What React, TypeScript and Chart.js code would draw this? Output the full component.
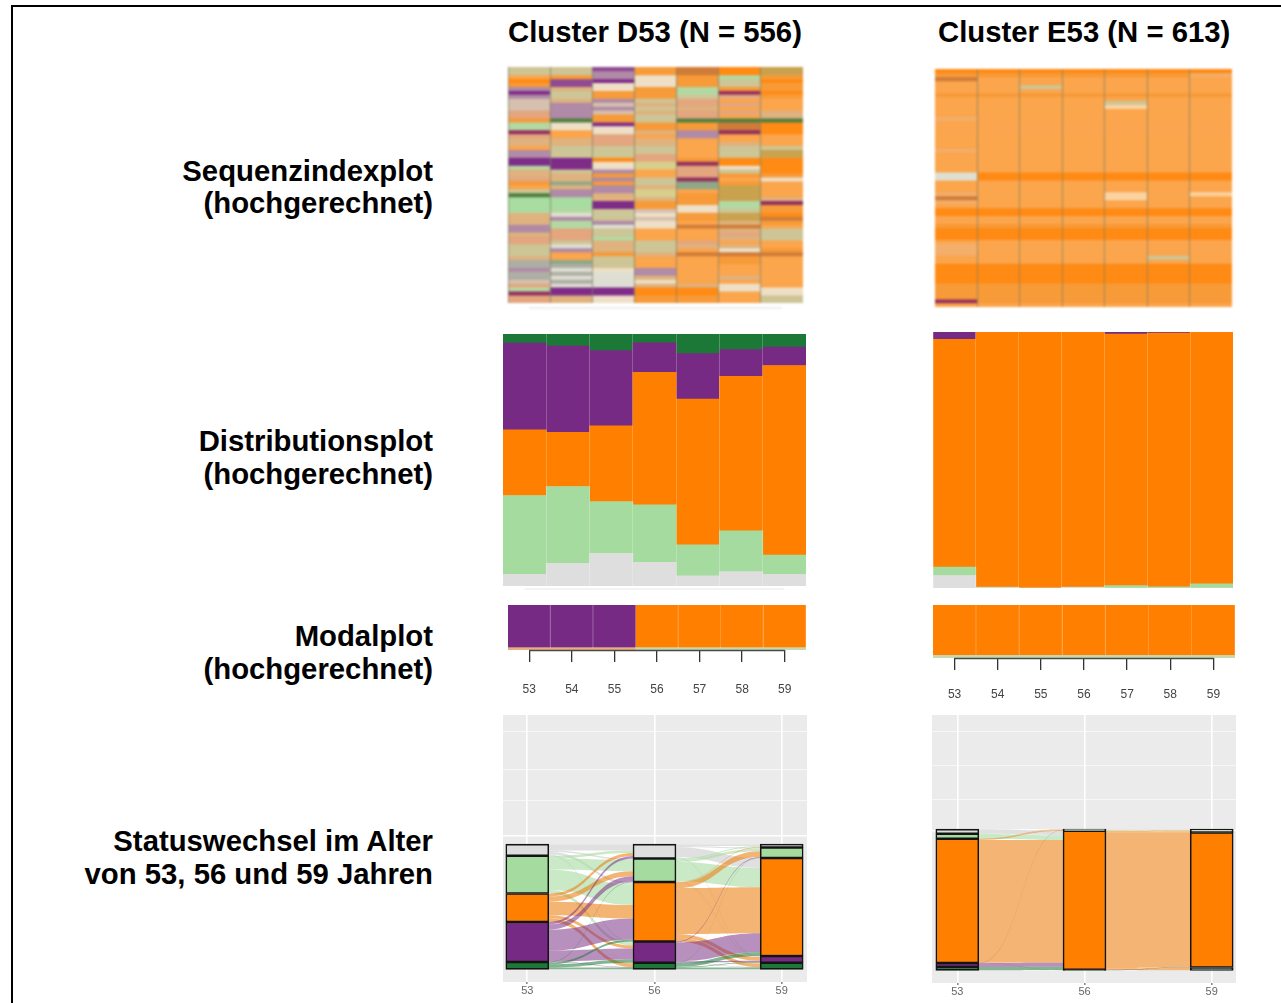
import React, { useEffect, useRef } from "react";
import { Chart, registerables } from "chart.js";

Chart.register(...registerables);

// ---------- data ----------
const ages = ["53", "54", "55", "56", "57", "58", "59"];
const stateNames = ["Sonstiges", "Teilzeit", "Vollzeit", "Nichterwerb", "Arbeitslos"];

// Sequence index plots: one string per age, one letter per sequence row (top to bottom)
const seqD53 = "kkoOnmPmhh hccnggdctt ommPPgttcn okGllllttt mmtcckkkts smsshcgdcc";
const seqD54 = "kknpptkktm mmmGwwoott kkkPPPkttv tmmlllgemg gccckemoov sesesePPtt";
const seqD55 = "pmmPwwnnmh mhnnPwwccc kkkOwwmnmn mmttPPkkkm ekkgtttnkk kweeeePPww";
const seqD56 = "nnwwwnnnkt ktkknntott kkccyyookk tyytnnhwhw woookkktoo ommtwtOOnn";
const seqD57 = "rrnnnggkcc tccGnnmmoo ooondcccdv vonnnwwnno roooctoroo oooootOOnn";
const seqD58 = "OOgkkndcoc ocoGrrdoot kkkOOwknon aaaaggkaat rtctotwrnn oootowwooo";
const seqD59 = "aanOnnOnoo ottGOOOooo kaaOOOOnwo oootdnnOrn okkkoonroo oooooowwkk";
const seqE53 = "Onrooonooo ooxooooooo xoooooeeoo oxrxoOOoon OOOoxxxooO OOOOnnnndo";
const seqE54 = "Onoooonooo oooooooooo ooooooOOoo oooooOOoon OOOooooooO OOOOnnnnno";
const seqE55 = "Onookonooo oooooooooo ooooooOOoo oooooOOoon OOOooooooO OOOOnnnnno";
const seqE56 = "Onoooonooo oooooooooo ooooooOOoo oooooOOoon OOOooooooO OOOOnnnnno";
const seqE57 = "Onoooonokb oooooooooo ooooooOOoo obbooOOoon OOOooooooO OOOOnnnnno";
const seqE58 = "Onoooonooo oooooooooo ooooooOOoo oooooOOoon OOOooookoO OOOOnnnnno";
const seqE59 = "Oxoooonooo oooooooooo ooooooOOoo oboooOOoon OOOooooooO OOOOnnnnno";

// Distribution plots: percent per age, bottom to top
const distDGrey = [4.6, 9.0, 13.0, 9.4, 4.0, 5.7, 4.6];
const distDLight = [31.3, 30.5, 20.5, 22.8, 12.3, 16.2, 7.7];
const distDOrange = [26.1, 21.5, 30.1, 52.6, 57.9, 61.3, 75.2];
const distDPurple = [34.4, 34.2, 29.8, 11.7, 18.0, 10.6, 7.3];
const distDGreen = [3.6, 4.8, 6.6, 3.5, 7.8, 6.2, 5.2];
const distEGrey = [4.9, 0.2, 0, 0.3, 0, 0, 0];
const distELight = [3.3, 0.2, 0, 0.1, 0.9, 0.5, 1.6];
const distEOrange = [88.9, 99.6, 100, 99.6, 98.3, 99.1, 98.4];
const distEPurple = [2.9, 0, 0, 0, 0.8, 0.4, 0];

// Modal plots
const modalDStates = ["P", "P", "P", "O", "O", "O", "O"];
const modalEStates = ["O", "O", "O", "O", "O", "O", "O"];
const modalDEdge = ["T", "T", "T", "U", "U", "U", "U"];
const modalEEdge = ["U", "U", "U", "U", "U", "U", "U"];

// Alluvial plots: stratum heights (top to bottom: grey, light green, orange, purple, dark green)
const alluvialYears = [53, 56, 59];
const strataD = [
  [9.3, 30.1, 22.7, 32.0, 5.9],
  [11.5, 18.7, 47.5, 17.0, 5.3],
  [2.7, 8.3, 78.4, 5.3, 5.3],
];
const strataE = [
  [3.3, 3.5, 88.0, 2.8, 2.4],
  [0.5, 0.6, 98.6, 0.1, 0.2],
  [1.6, 0.8, 95.6, 1.0, 1.0],
];
// Transition tables: row = from state, column = to state
const flowsD5356 = [
  [5.0, 1.2, 2.1, 0.7, 0.3],
  [2.0, 9.0, 16.3, 2.6, 0.2],
  [2.5, 4.0, 10.8, 2.4, 3.0],
  [2.0, 4.2, 16.7, 8.8, 0.3],
  [0, 0.3, 1.6, 2.5, 1.5],
];
const flowsD5659 = [
  [1.5, 1.0, 8.0, 0.5, 0.5],
  [0.7, 2.0, 15.5, 0.3, 0.2],
  [0.5, 4.5, 36.6, 3.0, 2.9],
  [0, 0.6, 15.3, 0.9, 0.2],
  [0, 0.2, 3.0, 0.6, 1.5],
];
const flowsE5356 = [
  [0.1, 0, 3.2, 0, 0],
  [0, 0.1, 3.4, 0, 0],
  [0.3, 0.5, 87.0, 0.1, 0.1],
  [0.1, 0, 2.7, 0, 0],
  [0, 0, 2.3, 0, 0.1],
];
const flowsE5659 = [
  [0.5, 0, 0, 0, 0],
  [0.4, 0.2, 0, 0, 0],
  [0.7, 0.6, 95.3, 1.0, 1.0],
  [0, 0, 0.1, 0, 0],
  [0, 0, 0.2, 0, 0],
];
const gridD = [107, 135, 160, 190];
const gridE = [99, 121, 145, 169];

// ---------- styles ----------
const SEQ_COLORS: Record<string, string> = {
  O: "#ff8a14", o: "#fba54c", n: "#f79a38", t: "#dfb27e", c: "#e3a67e", k: "#cdc596",
  y: "#d8cf8c", g: "#b4d8a2", l: "#a8dca0", P: "#7e2c88", p: "#8f4a92", m: "#b08aa6",
  h: "#d6c0ae", w: "#eedfc6", e: "#dedfd2", s: "#aeaea4", v: "#8fa888", G: "#4f7e3f",
  r: "#cf7c38", d: "#93305f", a: "#c9a24e", b: "#fbd3a0", x: "#f3ae6a",
};
const STATE_COLORS = ["#dedede", "#a6dba0", "#ff7f00", "#762a83", "#1b7837"];
const FLOW_COLORS = [
  "rgba(214,214,214,0.75)",
  "rgba(166,219,160,0.6)",
  "rgba(236,125,15,0.58)",
  "rgba(118,42,131,0.52)",
  "rgba(27,120,55,0.55)",
];
const MODAL_COLORS: Record<string, string> = { P: "#762a83", O: "#ff7f00", T: "#e8ae7c", U: "#c6d8ae" };
const SEP = "rgba(255,255,255,0.22)";

const panelPlugin = {
  id: "panel",
  beforeDraw(chart: any, _a: any, opts: any) {
    if (!opts.color) return;
    const { ctx, chartArea: c } = chart;
    ctx.save();
    ctx.fillStyle = opts.color;
    ctx.fillRect(c.left, c.top, c.right - c.left, c.bottom - c.top);
    ctx.restore();
  },
};

const spanPlugin = {
  id: "span",
  afterDatasetsDraw(chart: any, _a: any, opts: any) {
    if (!opts.color) return;
    const x = chart.scales.x;
    const n = x.ticks.length - 1;
    const y = x.top + opts.offset;
    const { ctx } = chart;
    ctx.save();
    ctx.strokeStyle = opts.color;
    ctx.lineWidth = opts.width;
    ctx.beginPath();
    ctx.moveTo(x.getPixelForTick(0), y);
    ctx.lineTo(x.getPixelForTick(n), y);
    ctx.stroke();
    ctx.restore();
  },
};

const sum = (a: number[]) => a.reduce((s, v) => s + v, 0);

const flowPlugin = {
  id: "flows",
  beforeDatasetsDraw(chart: any, _a: any, opts: any) {
    if (!opts.tables) return;
    const { ctx, scales } = chart;
    const { x, y } = scales;
    const half = opts.half;
    ctx.save();
    opts.tables.forEach((table: number[][], step: number) => {
      const x1 = x.getPixelForValue(opts.years[step] + half);
      const x2 = x.getPixelForValue(opts.years[step + 1] - half);
      const mid = (x1 + x2) / 2;
      ctx.fillStyle = "#ffffff";
      ctx.fillRect(x1, y.getPixelForValue(100), x2 - x1, y.getPixelForValue(0) - y.getPixelForValue(100));
      const fromStrata = opts.strata[step];
      const toStrata = opts.strata[step + 1];
      table.forEach((row, from) => {
        row.forEach((amount, to) => {
          if (!amount) return;
          const a1 = 100 - sum(fromStrata.slice(0, from)) - sum(row.slice(0, to));
          const colBefore = table.slice(0, from).reduce((s, r) => s + r[to], 0);
          const a2 = 100 - sum(toStrata.slice(0, to)) - colBefore;
          const pA1 = y.getPixelForValue(a1);
          const pB1 = y.getPixelForValue(a1 - amount);
          const pA2 = y.getPixelForValue(a2);
          const pB2 = y.getPixelForValue(a2 - amount);
          ctx.fillStyle = FLOW_COLORS[from];
          ctx.beginPath();
          ctx.moveTo(x1, pA1);
          ctx.bezierCurveTo(mid, pA1, mid, pA2, x2, pA2);
          ctx.lineTo(x2, pB2);
          ctx.bezierCurveTo(mid, pB2, mid, pB1, x1, pB1);
          ctx.closePath();
          ctx.fill();
        });
      });
    });
    ctx.restore();
  },
};

const base = {
  responsive: false,
  animation: false,
  events: [] as string[],
  layout: { padding: 0 },
};

function fixedHeight(h: number) {
  return (scale: any) => {
    scale.height = h;
    scale.paddingLeft = 0;
    scale.paddingRight = 0;
  };
}

function seqConfig(columns: string[], extra: number, spanColor?: string) {
  const cols = columns.map((c) => c.replace(/ /g, ""));
  const rows = cols[0].length;
  const datasets = [];
  for (let r = 0; r < rows; r++) {
    datasets.push({
      data: cols.map(() => 1),
      backgroundColor: cols.map((c) => SEQ_COLORS[c[r]]),
      borderWidth: 0,
      barPercentage: 1,
      categoryPercentage: 1,
    });
  }
  return {
    type: "bar",
    data: { labels: ages, datasets },
    plugins: [spanPlugin],
    options: {
      ...base,
      plugins: {
        legend: { display: false },
        tooltip: { enabled: false },
        span: { color: spanColor, offset: extra - 1, width: 1.2 },
      },
      scales: {
        x: {
          stacked: true,
          afterFit: fixedHeight(extra),
          border: { display: false },
          grid: { offset: true, color: "rgba(128,128,100,0.75)", lineWidth: 1, z: 1, drawTicks: false },
          ticks: { display: false },
        },
        y: { stacked: true, display: false, reverse: true, min: 0, max: rows },
      },
    },
  };
}

function distConfig(series: number[][], extra: number, spanColor?: string) {
  return {
    type: "bar",
    data: {
      labels: ages,
      datasets: series.map((data, i) => ({
        label: stateNames[i],
        data,
        backgroundColor: STATE_COLORS[i],
        borderWidth: 0,
        barPercentage: 1,
        categoryPercentage: 1,
      })),
    },
    plugins: [spanPlugin],
    options: {
      ...base,
      plugins: {
        legend: { display: false },
        tooltip: { enabled: false },
        span: { color: spanColor, offset: extra - 1, width: 1.2 },
      },
      scales: {
        x: {
          stacked: true,
          afterFit: fixedHeight(extra),
          border: { display: false },
          grid: { offset: true, color: SEP, lineWidth: 1, z: 1, drawTicks: false },
          ticks: { display: false },
        },
        y: { stacked: true, display: false, min: 0, max: 100 },
      },
    },
  };
}

function modalConfig(states: string[], edge: string[], axisHeight: number, pad: number) {
  const bar = {
    borderWidth: 0,
    barPercentage: 1,
    categoryPercentage: 1,
  };
  return {
    type: "bar",
    data: {
      labels: ages,
      datasets: [
        { ...bar, data: ages.map(() => 5), backgroundColor: edge.map((s) => MODAL_COLORS[s]) },
        {
          ...bar,
          data: ages.map(() => 95),
          backgroundColor: states.map((s) => MODAL_COLORS[s]),
          borderWidth: { right: 1, left: 0, top: 0, bottom: 0 },
          borderColor: states.map((s) => (s === "P" ? "#9a6aa3" : "#ff9f45")),
        },
      ],
    },
    plugins: [spanPlugin],
    options: {
      ...base,
      plugins: {
        legend: { display: false },
        tooltip: { enabled: false },
        span: { color: "#4a4a4a", offset: 0.5, width: 1.6 },
      },
      scales: {
        x: {
          stacked: true,
          afterFit: fixedHeight(axisHeight),
          border: { display: false },
          grid: { offset: false, drawOnChartArea: false, drawTicks: true, tickLength: 12, color: "#333", lineWidth: 1.3 },
          ticks: {
            padding: pad,
            color: "#444",
            autoSkip: false,
            maxRotation: 0,
            font: { family: "'Liberation Sans Narrow', 'Liberation Sans'", size: 12 },
          },
        },
        y: { stacked: true, display: false, min: 0, max: 100 },
      },
    },
  };
}

function alluvialConfig(strata: number[][], tables: number[][][], grid: number[], xMin: number, xMax: number, yMin: number, yMax: number) {
  // bottom-most state is drawn first
  const order = [4, 3, 2, 1, 0];
  return {
    type: "bar",
    data: {
      datasets: order.map((state) => ({
        label: stateNames[state],
        data: alluvialYears.map((year, i) => ({ x: year, y: strata[i][state] })),
        backgroundColor: STATE_COLORS[state],
        borderColor: "#141414",
        borderWidth: 1.6,
        borderSkipped: false,
        barThickness: 43,
      })),
    },
    plugins: [panelPlugin, flowPlugin],
    options: {
      ...base,
      plugins: {
        legend: { display: false },
        tooltip: { enabled: false },
        panel: { color: "#ebebeb" },
        flows: { tables, strata, years: alluvialYears, half: 0.503 },
      },
      scales: {
        x: {
          type: "linear",
          stacked: true,
          offset: false,
          min: xMin,
          max: xMax,
          afterBuildTicks(scale: any) {
            scale.ticks = alluvialYears.map((value) => ({ value }));
          },
          afterFit: fixedHeight(18),
          border: { display: false },
          grid: { offset: false, color: "#ffffff", lineWidth: 1.6, tickColor: "#888", tickLength: 2 },
          ticks: {
            padding: 0,
            color: "#666666",
            maxRotation: 0,
            font: { family: "'Liberation Sans'", size: 11 },
            callback: (v: number) => String(v),
          },
        },
        y: {
          stacked: true,
          min: yMin,
          max: yMax,
          afterBuildTicks(scale: any) {
            scale.ticks = grid.map((value) => ({ value }));
          },
          afterFit(scale: any) {
            scale.width = 0;
          },
          border: { display: false },
          grid: {
            color: (c: any) => (c.index === 0 ? "#ffffff" : "rgba(255,255,255,0.6)"),
            lineWidth: (c: any) => (c.index === 0 ? 1.6 : 1),
            drawTicks: false,
          },
          ticks: { display: false },
        },
      },
    },
  };
}

function Plot({ config, left, top, width, height, blur = 0.7 }: any) {
  const ref = useRef<HTMLCanvasElement>(null);
  useEffect(() => {
    const chart = new Chart(ref.current as any, config());
    return () => chart.destroy();
  }, []);
  return (
    <canvas
      ref={ref}
      width={width}
      height={height}
      style={{ position: "absolute", left, top, width, height, filter: `blur(${blur}px)` }}
    />
  );
}

const FONT: React.CSSProperties = {
  position: "absolute",
  fontFamily: "'Liberation Sans', Arial, sans-serif",
  fontWeight: "bold",
  fontSize: 29.3,
  lineHeight: "34px",
  whiteSpace: "nowrap",
  color: "#000",
};

function Title({ text, left, center }: { text: string; left: number; center: number }) {
  return <div style={{ ...FONT, left, top: center - 17 }}>{text}</div>;
}
function RowLabel({ text, center }: { text: string; center: number }) {
  return <div style={{ ...FONT, right: 1281 - 433, top: center - 17, textAlign: "right" }}>{text}</div>;
}

export default function App() {
  useEffect(() => {
    document.body.style.margin = "0";
  }, []);
  return (
    <div style={{ position: "relative", width: 1281, height: 1003, overflow: "hidden", background: "#fff" }}>
      <div style={{ position: "absolute", left: 11, top: 5, width: 1270, height: 2, background: "#000" }} />
      <div style={{ position: "absolute", left: 11, top: 5, width: 2, height: 998, background: "#000" }} />

      <Title text="Cluster D53 (N = 556)" left={508} center={32} />
      <Title text="Cluster E53 (N = 613)" left={938} center={32} />
      <RowLabel text="Sequenzindexplot" center={171} />
      <RowLabel text="(hochgerechnet)" center={203} />
      <RowLabel text="Distributionsplot" center={441} />
      <RowLabel text="(hochgerechnet)" center={474} />
      <RowLabel text="Modalplot" center={636} />
      <RowLabel text="(hochgerechnet)" center={669} />
      <RowLabel text="Statuswechsel im Alter" center={841} />
      <RowLabel text="von 53, 56 und 59 Jahren" center={874} />

      <Plot
        left={508} top={67} width={295} height={242} blur={1}
        config={() => seqConfig([seqD53, seqD54, seqD55, seqD56, seqD57, seqD58, seqD59], 6, "#dddddd")}
      />
      <Plot
        left={935} top={69} width={297} height={238} blur={1}
        config={() => seqConfig([seqE53, seqE54, seqE55, seqE56, seqE57, seqE58, seqE59], 0)}
      />
      <Plot
        left={503} top={334} width={303} height={256}
        config={() => distConfig([distDGrey, distDLight, distDOrange, distDPurple, distDGreen], 4, "#e8e8e8")}
      />
      <Plot
        left={933} top={332} width={300} height={258}
        config={() => distConfig([distEGrey, distELight, distEOrange, distEPurple], 2)}
      />
      <Plot
        left={508} top={605} width={298} height={100} blur={0.5}
        config={() => modalConfig(modalDStates, modalDEdge, 55, 20)}
      />
      <Plot
        left={933} top={605} width={302} height={100} blur={0.5}
        config={() => modalConfig(modalEStates, modalEEdge, 47, 17)}
      />
      <Plot
        left={503} top={715} width={304} height={285} blur={0.45}
        config={() => alluvialConfig(strataD, [flowsD5356, flowsD5659], gridD, 52.427, 59.597, -10.1, 203.2)}
      />
      <Plot
        left={932} top={715} width={304} height={286} blur={0.45}
        config={() => alluvialConfig(strataE, [flowsE5356, flowsE5659], gridE, 52.403, 59.573, -9, 180.9)}
      />
    </div>
  );
}
